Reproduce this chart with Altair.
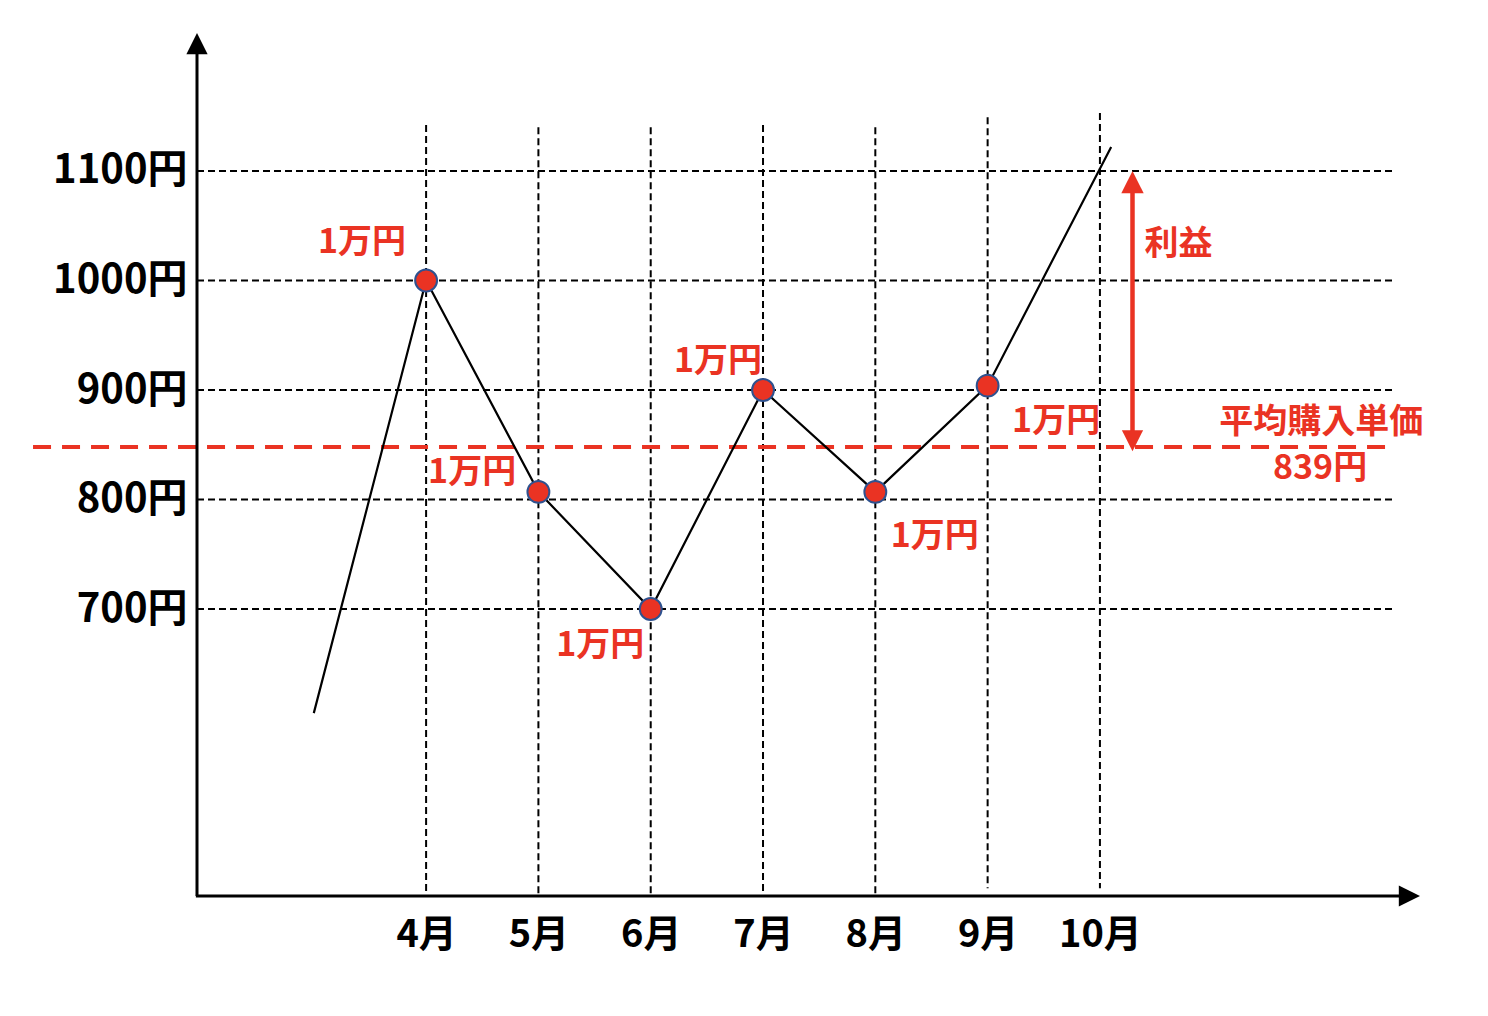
import altair as alt
import pandas as pd

# ---- data ----
line_x = [3, 4, 5, 6, 7, 8, 9, 10.1]
line_y = [605, 1000, 807, 700, 900, 807, 904, 1122]

point_months = [4, 5, 6, 7, 8, 9]
point_prices = [1000, 807, 700, 900, 807, 904]

grid_months = [4, 5, 6, 7, 8, 9, 10]
grid_month_top = [1142, 1140, 1140, 1142, 1140, 1149, 1153]
grid_month_bottom = [438, 438, 438, 438, 438, 445, 445]

grid_prices = [700, 800, 900, 1000, 1100]

avg_price_drawn = 848
avg_line_from, avg_line_to = 0.5, 12.58

profit_x = 10.29
profit_top = 1100

label_text = ["1万円", "1万円", "1万円", "1万円", "1万円", "1万円", "利益", "平均購入単価", "839円"]
label_x = [3.43, 4.41, 5.55, 6.60, 8.53, 9.61, 10.70, 11.97, 11.96]
label_y = [1034, 824, 666, 926, 766, 871, 1032, 870, 828]

X_MIN, X_MAX = 1.96, 12.85
Y_MIN, Y_MAX = 438, 1226

RED = "#EA3323"
FONT = "Noto Sans CJK JP"

xscale = alt.Scale(domain=[X_MIN, X_MAX], nice=False, zero=False)
yscale = alt.Scale(domain=[Y_MIN, Y_MAX], nice=False, zero=False)
xaxis = alt.Axis(values=grid_months, labelExpr="datum.value + '月'", domain=False,
                 ticks=False, tickSize=0, grid=False, labelFontSize=38, labelPadding=20,
                 labelFont=FONT, labelFontWeight="bold", labelColor="black", title=None)
yaxis = alt.Axis(values=grid_prices, labelExpr="datum.value + '円'", domain=False,
                 ticks=False, tickSize=0, grid=False, labelFontSize=40, labelPadding=10,
                 labelFont=FONT, labelFontWeight="bold", labelColor="black", title=None)


def X(f):
    return alt.X(f"{f}:Q", scale=xscale, axis=xaxis)


def Y(f):
    return alt.Y(f"{f}:Q", scale=yscale, axis=yaxis)


line_df = pd.DataFrame({"x": line_x, "y": line_y})
pts_df = pd.DataFrame({"x": point_months, "y": point_prices})
vgrid_df = pd.DataFrame({"x": grid_months, "y": grid_month_top, "y2": grid_month_bottom})
hgrid_df = pd.DataFrame({"y": grid_prices, "x": [X_MIN] * 5, "x2": [12.61] * 5})
avg_df = pd.DataFrame({"y": [avg_price_drawn], "x": [avg_line_from], "x2": [avg_line_to]})
lab_df = pd.DataFrame({"x": label_x, "y": label_y, "t": label_text})

vgrid = alt.Chart(vgrid_df).mark_rule(color="black", strokeWidth=2, strokeDash=[7, 4]).encode(
    x=X("x"), y=Y("y"), y2="y2:Q")
hgrid = alt.Chart(hgrid_df).mark_rule(color="black", strokeWidth=2, strokeDash=[7, 4]).encode(
    y=Y("y"), x=X("x"), x2="x2:Q")

# axes with arrow heads
yaxis_line = alt.Chart(pd.DataFrame({"x": [X_MIN], "y": [Y_MIN], "y2": [1211]})).mark_rule(
    color="black", strokeWidth=3).encode(x=X("x"), y=Y("y"), y2="y2:Q")
xaxis_line = alt.Chart(pd.DataFrame({"y": [Y_MIN], "x": [X_MIN - 0.01], "x2": [12.71]})).mark_rule(
    color="black", strokeWidth=3).encode(y=Y("y"), x=X("x"), x2="x2:Q")
up_head = alt.Chart(pd.DataFrame({"x": [X_MIN], "y": [Y_MAX]})).mark_point(
    shape="M0,0 L-1,2 L1,2 Z", filled=True, color="black", size=450, opacity=1, strokeWidth=0
).encode(x=X("x"), y=Y("y"))
right_head = alt.Chart(pd.DataFrame({"x": [X_MAX], "y": [Y_MIN]})).mark_point(
    shape="M0,0 L-2,-1 L-2,1 Z", filled=True, color="black", size=450, opacity=1, strokeWidth=0
).encode(x=X("x"), y=Y("y"))

avg_line = alt.Chart(avg_df).mark_rule(color=RED, strokeWidth=4, strokeDash=[18, 11]).encode(
    y=Y("y"), x=X("x"), x2="x2:Q")

price_line = alt.Chart(line_df).mark_line(color="black", strokeWidth=2.2).encode(
    x=X("x"), y=Y("y"), order=alt.Order("x:Q"))
points = alt.Chart(pts_df).mark_point(filled=True, fill=RED, stroke="#2F528F", strokeWidth=2,
                                      size=480, opacity=1, fillOpacity=1).encode(x=X("x"), y=Y("y"))

profit_df = pd.DataFrame({"x": [profit_x], "y": [avg_price_drawn + 10], "y2": [profit_top - 10]})
profit_shaft = alt.Chart(profit_df).mark_rule(color=RED, strokeWidth=4.5).encode(
    x=X("x"), y=Y("y"), y2="y2:Q")
profit_up = alt.Chart(pd.DataFrame({"x": [profit_x], "y": [profit_top]})).mark_point(
    shape="M0,0 L-1,2 L1,2 Z", filled=True, color=RED, size=500, opacity=1, strokeWidth=0
).encode(x=X("x"), y=Y("y"))
profit_down = alt.Chart(pd.DataFrame({"x": [profit_x], "y": [avg_price_drawn - 4]})).mark_point(
    shape="M0,0 L-1,-2 L1,-2 Z", filled=True, color=RED, size=450, opacity=1, strokeWidth=0
).encode(x=X("x"), y=Y("y"))

labels = alt.Chart(lab_df).mark_text(align="center", baseline="middle", fontSize=34, font=FONT,
                                     fontWeight="bold", color=RED).encode(
    x=X("x"), y=Y("y"), text="t:N")

chart = alt.layer(
    vgrid, hgrid, avg_line, price_line, points, profit_shaft, profit_up, profit_down,
    yaxis_line, xaxis_line, up_head, right_head, labels
).properties(
    width=1223, height=863,
    autosize=alt.AutoSizeParams(type="none"),
    padding={"left": 189, "top": 25, "right": 60, "bottom": 100},
    background="white",
).configure_view(stroke=None)

chart.save("out.html", embed_options={"renderer": "svg", "actions": False})
